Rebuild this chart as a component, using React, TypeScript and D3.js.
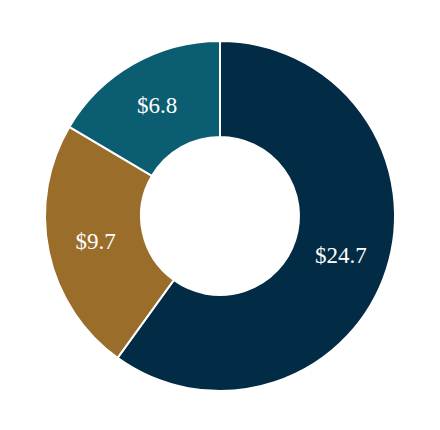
import React from "react";
import * as d3 from "d3";

const categories = ["A", "B", "C"];
const values = [24.7, 9.7, 6.8];
const labels = ["$24.7", "$9.7", "$6.8"];
const colors = ["#022b45", "#9a6d2a", "#0b5e72"];

export default function App() {
  const width = 440;
  const height = 430;
  const cx = 220;
  const cy = 216;
  const outer = 175;
  const inner = 79;
  const pie = d3.pie<number>().sort(null).value((d) => d)(values);
  const arc = d3.arc<d3.PieArcDatum<number>>().innerRadius(inner).outerRadius(outer);
  return (
    <svg width={width} height={height} style={{ position: "absolute", left: 0, top: 0 }}>
      <rect width={width} height={height} fill="#fff" />
      <g transform={`translate(${cx},${cy})`}>
        {pie.map((p, i) => (
          <path key={categories[i]} d={arc(p) || ""} fill={colors[i]} stroke="#fff" strokeWidth={2} />
        ))}
        {pie.map((p, i) => {
          const [x, y] = arc.centroid(p);
          return (
            <text key={"t" + i} x={x} y={y} textAnchor="middle" dominantBaseline="central" fill="#fff"
              fontFamily="'Times New Roman', Times, 'Liberation Serif', serif" fontSize={23}>
              {labels[i]}
            </text>
          );
        })}
      </g>
    </svg>
  );
}
